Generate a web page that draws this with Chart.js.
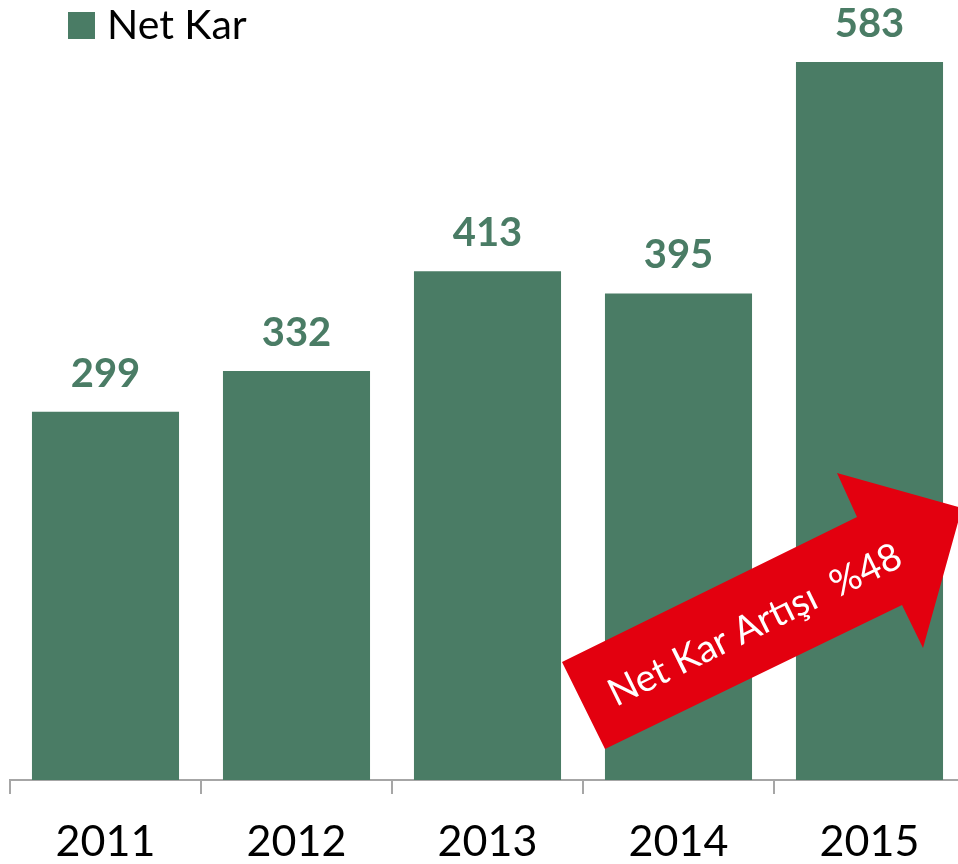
<!DOCTYPE html>
<html>
<head>
<meta charset="utf-8">
<script src="https://cdn.jsdelivr.net/npm/chart.js@4.4.0/dist/chart.umd.min.js"></script>
<style>
  html, body { margin: 0; padding: 0; background: #fff; overflow: hidden; }
  #wrap { width: 966px; height: 864px; }
</style>
</head>
<body>
<div id="wrap"><canvas id="grafica"></canvas></div>
<script>
const years = ['2011', '2012', '2013', '2014', '2015'];
const netKar = [299, 332, 413, 395, 583];
const serieNombre = 'Net Kar';
const flechaTexto = 'Net Kar Artışı  %48';

const verde = '#4a7c65';
const rojo = '#e3000f';
const fuente = 'Lato, "Open Sans", sans-serif';

// leyenda, etiquetas y la flecha roja se dibujan a mano
const extras = {
    id: 'extras',
    afterDatasetsDraw(chart) {
        const ctx = chart.ctx;
        const meta = chart.getDatasetMeta(0);
        ctx.save();

        // etiquetas de valor
        ctx.fillStyle = verde;
        ctx.font = 'bold 40px ' + fuente;
        ctx.textAlign = 'center';
        ctx.textBaseline = 'alphabetic';
        meta.data.forEach((bar, i) => {
            ctx.fillText(netKar[i], bar.x, bar.y - 25);
        });

        // leyenda
        ctx.fillStyle = verde;
        ctx.fillRect(68, 12, 27, 27);
        ctx.fillStyle = '#000';
        ctx.textAlign = 'left';
        ctx.font = '41px ' + fuente;
        ctx.fillText(serieNombre, 107, 39);

        // flecha
        ctx.fillStyle = rojo;
        ctx.beginPath();
        ctx.moveTo(605, 749);
        ctx.lineTo(562, 662);
        ctx.lineTo(857, 517);
        ctx.lineTo(837, 473);
        ctx.lineTo(962, 508);
        ctx.lineTo(923, 648);
        ctx.lineTo(902, 605);
        ctx.closePath();
        ctx.fill();

        ctx.translate(755, 625);
        ctx.rotate(-26.2 * Math.PI / 180);
        ctx.fillStyle = '#fff';
        ctx.textAlign = 'center';
        ctx.textBaseline = 'middle';
        ctx.font = '38px ' + fuente;
        ctx.fillText(flechaTexto, 0, 0);
        ctx.restore();
    }
};

function main() {
    const ctx = document.getElementById('grafica').getContext('2d');
    new Chart(ctx, {
        type: 'bar',
        data: {
            labels: years,
            datasets: [{
                label: serieNombre,
                data: netKar,
                backgroundColor: verde,
                borderWidth: 0,
                barPercentage: 0.77,
                categoryPercentage: 1
            }]
        },
        options: {
            responsive: true,
            maintainAspectRatio: false,
            animation: false,
            layout: { padding: { left: 10, right: 1, top: 41, bottom: 0 } },
            plugins: {
                legend: { display: false },
                tooltip: { enabled: false }
            },
            scales: {
                y: {
                    display: false,
                    min: 0,
                    max: 600
                },
                x: {
                    afterFit(scale) { scale.height = 84; },
                    grid: {
                        offset: true,
                        drawOnChartArea: false,
                        drawTicks: true,
                        tickLength: 14,
                        color: '#a6a6a6',
                        lineWidth: 2
                    },
                    border: { display: true, color: '#a6a6a6', width: 2 },
                    ticks: {
                        color: '#000',
                        padding: 22,
                        font: { family: fuente, size: 43 }
                    }
                }
            }
        },
        plugins: [extras]
    });
}

document.addEventListener('DOMContentLoaded', function() {
    main();
});
</script>
</body>
</html>
